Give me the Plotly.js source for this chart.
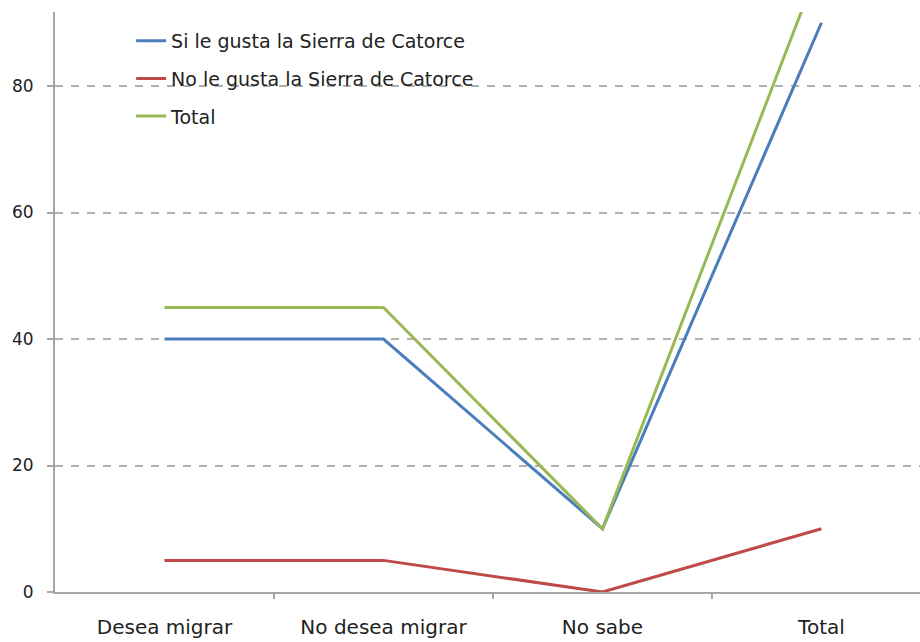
<!DOCTYPE html>
<html>
<head>
<meta charset="utf-8">
<script src="https://cdn.plot.ly/plotly-3.0.1.min.js"></script>
<style>
  html, body { margin: 0; padding: 0; background: #fff; }
  #chart { width: 920px; height: 642px; }
</style>
</head>
<body>
<div id="chart"></div>
<script>
// Categories along the x axis
const categories = ["Desea migrar", "No desea migrar", "No sabe", "Total"];

// Series values
const siLeGusta = [40, 40, 10, 90];
const noLeGusta = [5, 5, 0, 10];
const total = [45, 45, 10, 100];

const seriesNames = ["Si le gusta la Sierra de Catorce", "No le gusta la Sierra de Catorce", "Total"];
const seriesColors = ["#4a7ebb", "#be4b48", "#98b954"];

const yTicks = [0, 20, 40, 60, 80];

const xIdx = categories.map((_, i) => i);
const traces = [siLeGusta, noLeGusta, total].map((vals, i) => ({
  type: "scatter",
  mode: "lines",
  x: xIdx,
  y: vals,
  name: seriesNames[i],
  legendgroup: "g" + i,
  line: { color: seriesColors[i], width: 3 },
  hoverinfo: "skip"
}));

const layout = {
  width: 920,
  height: 642,
  margin: { l: 55, r: 0, t: 12, b: 50 },
  paper_bgcolor: "#ffffff",
  plot_bgcolor: "#ffffff",
  font: { family: "DejaVu Sans, Verdana, sans-serif", size: 17, color: "#222" },
  showlegend: true,
  legend: {
    x: 0.088, y: 0.983, xanchor: "left", yanchor: "top",
    bgcolor: "rgba(255,255,255,0)",
    font: { size: 19, color: "#222" },
    tracegroupgap: 10,
    itemwidth: 30
  },
  xaxis: {
    range: [-0.5, 3.45],
    tickmode: "array",
    tickvals: xIdx,
    ticktext: categories,
    tickfont: { size: 20 },
    showgrid: false,
    zeroline: false,
    showline: true,
    linecolor: "#a6a6a6",
    linewidth: 2,
    ticks: "",
    ticklabelstandoff: 16,
    fixedrange: true
  },
  yaxis: {
    range: [0, 91.7],
    tickmode: "array",
    tickvals: yTicks,
    tickfont: { size: 17 },
    showgrid: true,
    gridcolor: "#b0b0b0",
    gridwidth: 2,
    griddash: "8px,8px",
    zeroline: false,
    showline: true,
    linecolor: "#a6a6a6",
    linewidth: 2,
    ticks: "outside",
    ticklen: 6,
    tickwidth: 2,
    tickcolor: "#a6a6a6",
    ticklabelstandoff: 10,
    fixedrange: true
  },
  shapes: [0.5, 1.5, 2.5].map(v => ({
    type: "line", xref: "x", yref: "paper",
    x0: v, x1: v, y0: 0, y1: -0.012,
    line: { color: "#a6a6a6", width: 2 }
  }))
};

Plotly.newPlot("chart", traces, layout, { displayModeBar: false, staticPlot: true });
</script>
</body>
</html>
